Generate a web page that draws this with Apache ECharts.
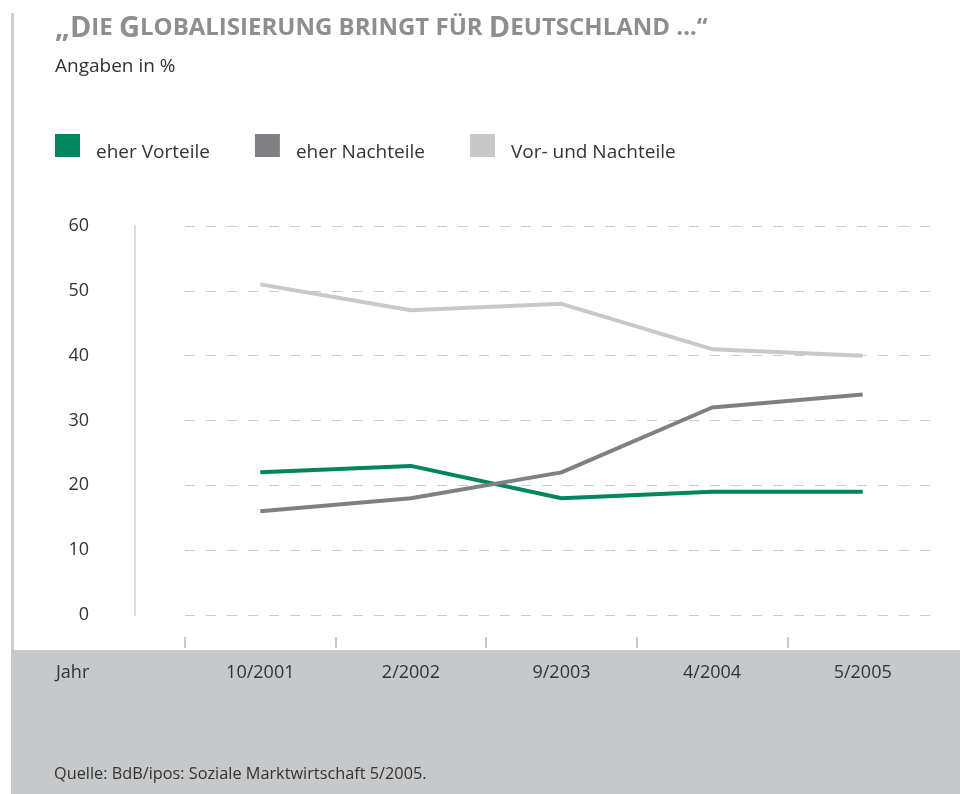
<!DOCTYPE html>
<html>
<head>
<meta charset="utf-8">
<script src="https://cdn.jsdelivr.net/npm/echarts@6/dist/echarts.min.js"></script>
<style>
  html, body { margin: 0; padding: 0; background: #fff; }
  #chart { width: 960px; height: 794px; }
</style>
</head>
<body>
<div id="chart"></div>
<script>
// Daten
const perioden = ['10/2001', '2/2002', '9/2003', '4/2004', '5/2005']
const eherVorteile = [22, 23, 18, 19, 19]
const eherNachteile = [16, 18, 22, 32, 34]
const vorUndNachteile = [51, 47, 48, 41, 40]
const serienNamen = ['eher Vorteile', 'eher Nachteile', 'Vor- und Nachteile']
const farben = ['#00855f', '#808084', '#c7c8ca']

const titelText = '{g|„D}{k|IE }{g|G}{k|LOBALISIERUNG BRINGT FÜR }{g|D}{k|EUTSCHLAND …“}'
const untertitel = 'Angaben in %'
const achsenName = 'Jahr'
const quelle = 'Quelle: BdB/ipos: Soziale Marktwirtschaft 5/2005.'

const font = '"Open Sans", sans-serif'
const chart = echarts.init(document.getElementById('chart'))

const linie = (name, data, color) => ({
  name,
  type: 'line',
  data,
  color,
  showSymbol: false,
  symbol: 'none',
  lineStyle: { width: 4, color },
  xAxisIndex: 0,
  yAxisIndex: 0
})

const option = {
  animation: false,
  textStyle: { fontFamily: font },
  title: [
    {
      text: titelText,
      left: 50,
      top: 9,
      textStyle: {
        rich: {
          g: { fontSize: 29, fontWeight: 'bold', color: '#8e8e8e', fontFamily: font },
          k: { fontSize: 24, fontWeight: 'bold', color: '#8e8e8e', fontFamily: font }
        }
      }
    },
    {
      text: untertitel,
      left: 50,
      top: 52,
      textStyle: { fontSize: 19, fontWeight: 'normal', color: '#333', fontFamily: font }
    }
  ],
  legend: {
    left: 50,
    top: 129,
    icon: 'rect',
    itemWidth: 25,
    itemHeight: 23,
    itemGap: 45,
    data: serienNamen,
    formatter: '{t|{name}}',
    textStyle: {
      fontSize: 19,
      color: '#333',
      rich: {
        t: { fontSize: 19, color: '#333', fontFamily: font, padding: [14, 0, 0, 11] }
      }
    }
  },
  graphic: [
    { type: 'rect', left: 11, top: 13, shape: { width: 3, height: 640 }, style: { fill: '#cfcfcf' }, z: -1 },
    { type: 'rect', left: 11, top: 650, shape: { width: 949, height: 144 }, style: { fill: '#c7c8ca' }, z: -1 },
    { type: 'text', left: 56, top: 664, style: { text: achsenName, fontSize: 18, fill: '#333', fontFamily: font } },
    { type: 'text', left: 54, top: 766, style: { text: quelle, fontSize: 16.3, fill: '#333', fontFamily: font } }
  ],
  grid: [
    { left: 185, right: 22, top: 226, bottom: 179 },
    // nur fuer die Striche unten (5 Striche, kein letzter)
    { left: 185, width: 602.4, top: 226, bottom: 157 }
  ],
  xAxis: [
    {
      type: 'category',
      data: perioden,
      gridIndex: 0,
      boundaryGap: true,
      offset: 22,
      axisLine: { show: false },
      axisTick: { show: false },
      axisLabel: { fontSize: 18, color: '#333', margin: 27 }
    },
    {
      type: 'category',
      data: perioden.slice(0, 4),
      gridIndex: 1,
      boundaryGap: true,
      axisLine: { show: false },
      axisTick: { show: true, length: 11, lineStyle: { color: '#c8c8c8', width: 2 } },
      axisLabel: { show: false }
    }
  ],
  yAxis: [
    {
      type: 'value',
      min: 0,
      max: 60,
      interval: 10,
      gridIndex: 0,
      offset: 50,
      axisLine: { show: true, lineStyle: { color: '#dcdcdc', width: 2 } },
      axisTick: { show: false },
      axisLabel: { fontSize: 18, color: '#333', margin: 46 },
      splitLine: { show: true, lineStyle: { color: '#cccccc', type: [10, 11], width: 1 } }
    },
    {
      type: 'value',
      gridIndex: 1,
      show: false
    }
  ],
  series: [
    linie(serienNamen[0], eherVorteile, farben[0]),
    linie(serienNamen[1], eherNachteile, farben[1]),
    linie(serienNamen[2], vorUndNachteile, farben[2])
  ]
}

chart.setOption(option)
</script>
</body>
</html>
